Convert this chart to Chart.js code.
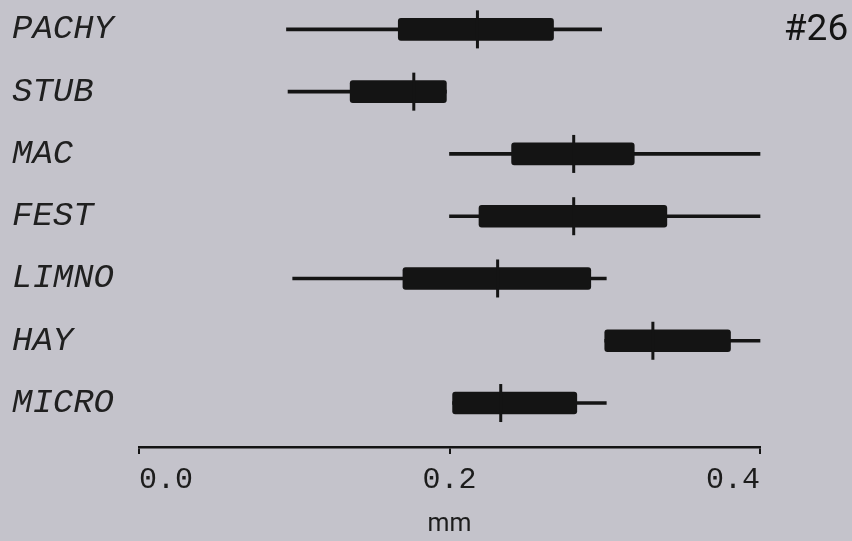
<!DOCTYPE html>
<html>
<head>
<meta charset="utf-8">
<script src="https://cdn.jsdelivr.net/npm/chart.js@4.4.0/dist/chart.umd.min.js"></script>
<style>
  html, body { margin: 0; padding: 0; background: #c4c3cb; }
  #wrap { width: 852px; height: 541px; }
</style>
</head>
<body>
<div id="wrap"><canvas id="boxChart" width="852" height="541"></canvas></div>
<script>
// Данные (мм)
const categories = ['PACHY', 'STUB', 'MAC', 'FEST', 'LIMNO', 'HAY', 'MICRO'];
const whiskerLow  = [0.095, 0.096, 0.200, 0.200, 0.099, 0.300, 0.202];
const quartile1   = [0.167, 0.136, 0.240, 0.219, 0.170, 0.300, 0.202];
const medians     = [0.218, 0.177, 0.280, 0.280, 0.231, 0.331, 0.233];
const quartile3   = [0.267, 0.198, 0.319, 0.340, 0.291, 0.381, 0.282];
const whiskerHigh = [0.298, 0.198, 0.400, 0.400, 0.301, 0.400, 0.301];
const xTicks = [0.0, 0.2, 0.4];
const panelTag = '#26';

const ink = '#141414';
const labelFont = "'Liberation Mono', 'Courier New', monospace";

// "#26" в правом верхнем углу
const tagPlugin = {
    id: 'tag',
    afterDraw(chart) {
        const c = chart.ctx;
        c.save();
        c.fillStyle = ink;
        c.font = "37px Roboto, 'Liberation Sans', sans-serif";
        c.textAlign = 'center';
        c.textBaseline = 'middle';
        c.fillText(panelTag, 816, 31);
        c.restore();
    }
};

const ctx = document.getElementById('boxChart').getContext('2d');
const boxChart = new Chart(ctx, {
    type: 'bar',
    data: {
        datasets: [
            {
                type: 'scatter',
                label: 'median',
                data: medians.map((m, i) => ({ x: m, y: i })),
                pointStyle: 'line',
                rotation: 90,
                radius: 19,
                borderWidth: 3,
                borderColor: ink,
                showLine: false,
                clip: false,
                order: 0
            },
            {
                label: 'box',
                indexAxis: 'y',
                data: quartile1.map((q, i) => ({ x: [q, quartile3[i]], y: i })),
                backgroundColor: ink,
                barThickness: 22,
                borderRadius: 3,
                borderSkipped: false,
                grouped: false,
                clip: false,
                order: 1
            },
            {
                label: 'whisker',
                indexAxis: 'y',
                data: whiskerLow.map((w, i) => ({ x: [w, whiskerHigh[i]], y: i })),
                backgroundColor: ink,
                barThickness: 3,
                grouped: false,
                clip: false,
                order: 2
            }
        ]
    },
    options: {
        responsive: false,
        animation: false,
        layout: { padding: { left: 12, right: 92, top: 5, bottom: 0 } },
        plugins: {
            legend: { display: false },
            tooltip: { enabled: false }
        },
        scales: {
            x: {
                type: 'linear',
                position: 'bottom',
                offset: false,
                min: 0,
                max: 0.4,
                afterBuildTicks: s => { s.ticks = xTicks.map(v => ({ value: v })); },
                afterFit: s => { s.height = 94; },
                grid: { offset: false, drawOnChartArea: false, drawTicks: true, tickLength: 7, color: ink, lineWidth: 2 },
                border: { color: ink, width: 2.5 },
                ticks: {
                    align: 'inner',
                    padding: 8,
                    color: '#1c1c1c',
                    font: { family: labelFont, size: 30 },
                    callback: v => v.toFixed(1)
                },
                title: {
                    display: true,
                    text: 'mm',
                    color: '#1c1c1c',
                    font: { family: "'Liberation Sans Narrow', Roboto, sans-serif", size: 25 },
                    padding: { top: 0, bottom: 1 }
                }
            },
            y: {
                type: 'linear',
                reverse: true,
                offset: false,
                min: -0.096,
                max: 6.706,
                afterBuildTicks: s => { s.ticks = categories.map((c, i) => ({ value: i })); },
                afterFit: s => { s.width = 127; },
                grid: { display: false, offset: false },
                border: { display: false },
                ticks: {
                    crossAlign: 'far',
                    color: '#202020',
                    font: { family: labelFont, size: 34, style: 'italic' },
                    callback: v => categories[v]
                }
            }
        }
    },
    plugins: [tagPlugin]
});
</script>
</body>
</html>
